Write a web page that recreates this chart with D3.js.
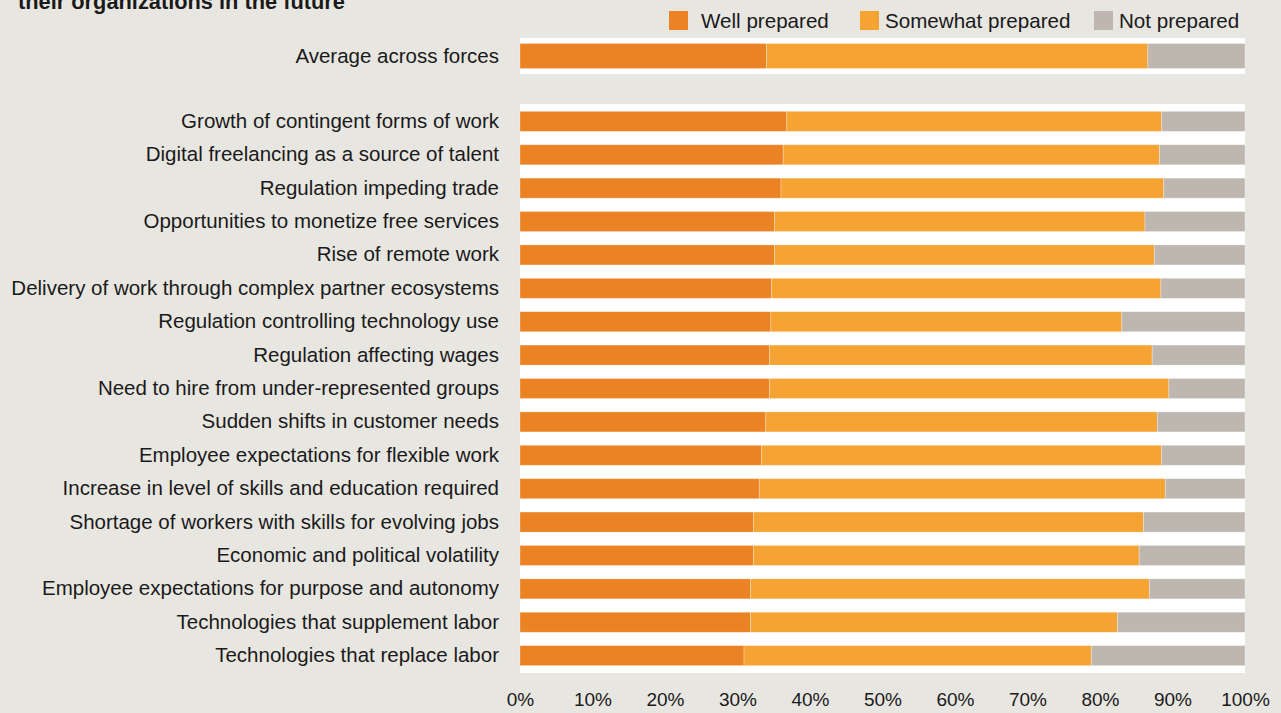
<!DOCTYPE html>
<html>
<head>
<meta charset="utf-8">
<script src="https://cdn.jsdelivr.net/npm/d3@7"></script>
<style>
  html, body { margin: 0; padding: 0; background: #e8e6e1; }
  svg { display: block; }
  text { font-family: "Liberation Sans", Arial, sans-serif; fill: #1a1a1a; }
</style>
</head>
<body>
<svg id="chart" width="1281" height="713"></svg>
<script>
const averageLabel = "Average across forces";
const categories = [
  "Growth of contingent forms of work",
  "Digital freelancing as a source of talent",
  "Regulation impeding trade",
  "Opportunities to monetize free services",
  "Rise of remote work",
  "Delivery of work through complex partner ecosystems",
  "Regulation controlling technology use",
  "Regulation affecting wages",
  "Need to hire from under-represented groups",
  "Sudden shifts in customer needs",
  "Employee expectations for flexible work",
  "Increase in level of skills and education required",
  "Shortage of workers with skills for evolving jobs",
  "Economic and political volatility",
  "Employee expectations for purpose and autonomy",
  "Technologies that supplement labor",
  "Technologies that replace labor"
];
const averageValues = { well: 34.0, somewhat: 52.6, not: 13.4 };
const wellPrepared =     [36.8, 36.3, 36.0, 35.1, 35.1, 34.7, 34.6, 34.4, 34.4, 33.9, 33.3, 33.0, 32.2, 32.2, 31.8, 31.8, 30.9];
const somewhatPrepared = [51.7, 51.9, 52.8, 51.1, 52.4, 53.7, 48.4, 52.8, 55.1, 54.0, 55.2, 56.0, 53.8, 53.2, 55.0, 50.6, 47.9];
const notPrepared =      [11.5, 11.8, 11.2, 13.8, 12.5, 11.6, 17.0, 12.8, 10.5, 12.1, 11.5, 11.0, 14.0, 14.6, 13.2, 17.6, 21.2];
const seriesKeys = ["well", "somewhat", "not"];
const seriesNames = ["Well prepared", "Somewhat prepared", "Not prepared"];
const seriesColors = ["#eb8324", "#f5a333", "#bdb7b0"];
const tickValues = [0, 10, 20, 30, 40, 50, 60, 70, 80, 90, 100];
const titleLine = "their organizations in the future";

const svg = d3.select("#chart");
const x = d3.scaleLinear().domain([0, 100]).range([520, 1245]);

const rows = categories.map((c, i) => ({ label: c, well: wellPrepared[i], somewhat: somewhatPrepared[i], not: notPrepared[i] }));
const avgRow = [{ label: averageLabel, ...averageValues }];

const yAvg = d3.scaleBand().domain([averageLabel]).range([38, 74]).paddingInner(0).paddingOuter(0.22);
const yMain = d3.scaleBand().domain(categories).range([104, 673]).paddingInner(0.4).paddingOuter(0.22);

const stack = d3.stack().keys(seriesKeys);
const color = d3.scaleOrdinal().domain(seriesKeys).range(seriesColors);

// title fragment (cut by the top edge, as in the reference)
svg.append("text").attr("x", 18).attr("y", 9)
  .attr("font-size", 21.8).attr("font-weight", "bold").text(titleLine);

function drawBlock(data, y, top, bottom) {
  svg.append("rect").attr("x", x(0)).attr("y", top)
    .attr("width", x(100) - x(0)).attr("height", bottom - top).attr("fill", "#ffffff");
  const layers = stack(data);
  svg.append("g").selectAll("g").data(layers).join("g")
    .attr("fill", d => color(d.key))
    .selectAll("rect").data(d => d).join("rect")
    .attr("x", d => x(d[0]))
    .attr("y", d => y(d.data.label))
    .attr("width", d => x(d[1]) - x(d[0]))
    .attr("height", y.bandwidth())
    .attr("stroke", "rgba(255,255,255,0.35)").attr("stroke-width", 0.8);
  const ax = svg.append("g").attr("transform", `translate(${x(0) - 21},0)`)
    .call(d3.axisLeft(y).tickSize(0).tickPadding(0));
  ax.select(".domain").remove();
  ax.selectAll("text").attr("font-size", 20.5).attr("fill", "#1a1a1a")
    .style("font-family", '"Liberation Sans", Arial, sans-serif');
}

drawBlock(avgRow, yAvg, 38, 74);
drawBlock(rows, yMain, 104, 673);

// x axis
const xa = svg.append("g").attr("transform", "translate(0,689)")
  .call(d3.axisBottom(x).tickValues(tickValues).tickFormat(d => d + "%").tickSize(0).tickPadding(0));
xa.select(".domain").remove();
xa.selectAll("text").attr("font-size", 19).attr("fill", "#1a1a1a").attr("dy", "0.9em")
  .style("font-family", '"Liberation Sans", Arial, sans-serif');

// legend
const legendX = [669, 860, 1094];
const lg = svg.append("g");
seriesNames.forEach((n, i) => {
  lg.append("rect").attr("x", legendX[i]).attr("y", 11).attr("width", 19).attr("height", 19).attr("fill", seriesColors[i]);
  lg.append("text").attr("x", legendX[i] + (i === 0 ? 32 : 25)).attr("y", 28).attr("font-size", 20.6).text(n);
});
</script>
</body>
</html>
